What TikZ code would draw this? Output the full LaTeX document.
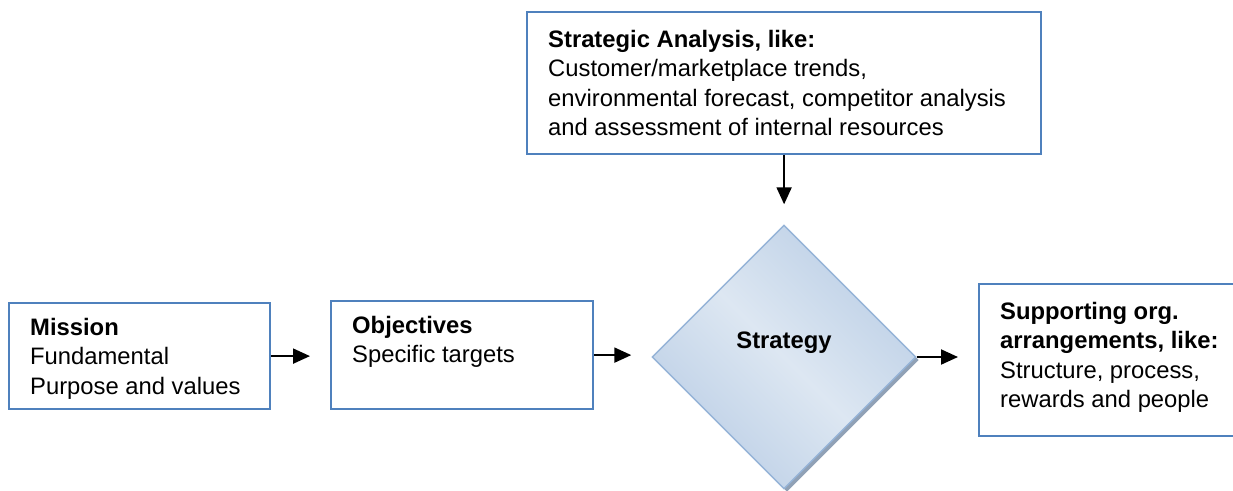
\documentclass[tikz,border=0pt]{standalone}
\usepackage{fontspec}
\setmainfont{Liberation Sans}
\usetikzlibrary{arrows.meta,shadows,shapes.geometric}

\definecolor{boxblue}{HTML}{4F81BD}
\definecolor{diaedge}{HTML}{95B3D7}
\definecolor{diadark}{HTML}{BCCFE6}
\definecolor{dialight}{HTML}{DDE7F2}
\definecolor{diashadow}{HTML}{8497AE}

\tikzset{
  box/.style={draw=boxblue, line width=2.2pt, fill=white, anchor=north west,
    inner sep=0pt,
    drop shadow={shadow xshift=1.2pt, shadow yshift=-1.2pt, fill=black!30, opacity=0.5}},
  txt/.style={anchor=north west, inner sep=0pt, align=left,
    font=\fontsize{23.8}{29.5}\selectfont},
  choice/.style={diamond, draw=diaedge, line width=1.4pt, inner sep=0pt,
    minimum width=264pt, minimum height=264pt,
    top color=diadark, bottom color=diadark, middle color=dialight,
    shading angle=-45,
    drop shadow={shadow xshift=3pt, shadow yshift=-3pt, fill=diashadow, opacity=0.9}},
  arr/.style={line width=2pt, -{Triangle[length=17pt,width=15pt]}, shorten >=20pt}
}

\begin{document}
\begin{tikzpicture}[x=1pt,y=-1pt]
\useasboundingbox (0,0) rectangle (1233,490);
\clip (0,0) rectangle (1233,490);

% boxes of the chain
\node[box, minimum width=261pt, minimum height=106pt] (mission) at (8,302) {};
\node[box, minimum width=262pt, minimum height=108pt] (objectives) at (330,300) {};
\node[box, minimum width=514pt, minimum height=142pt] (analysis) at (526,11) {};
\node[box, minimum width=300pt, minimum height=152pt] (support) at (978,283) {};
\node[choice] (strategy) at (784,357) {};

% box texts
\node[txt] (missiontext) at ([shift={(22,16)}]mission.north west)
  {\textbf{Mission}\\Fundamental\\Purpose and values};
\node[txt] (objtext) at ([shift={(22,16)}]objectives.north west)
  {\textbf{Objectives}\\Specific targets};
\node[txt] (analysistext) at ([shift={(22,19)}]analysis.north west)
  {\textbf{Strategic Analysis, like:}\\Customer/marketplace trends,\\environmental forecast, competitor analysis\\and assessment of internal resources};
\node[txt] (supporttext) at ([shift={(22,19)}]support.north west)
  {\textbf{Supporting org.}\\\textbf{arrangements, like:}\\Structure, process,\\rewards and people};
\node[font=\fontsize{23.8}{29.5}\selectfont\bfseries, inner sep=0pt] (strategylabel)
  at ([yshift=14pt]strategy.center) {Strategy};

% connectors
\draw[arr] (mission.east) -- (mission.east -| objectives.west);
\draw[arr] (objectives.east) -- (objectives.east -| strategy.west);
\draw[arr] (strategy.east) -- (strategy.east -| support.west);
\draw[arr] (analysis.south) -- (analysis.south |- strategy.north);
\end{tikzpicture}
\end{document}
